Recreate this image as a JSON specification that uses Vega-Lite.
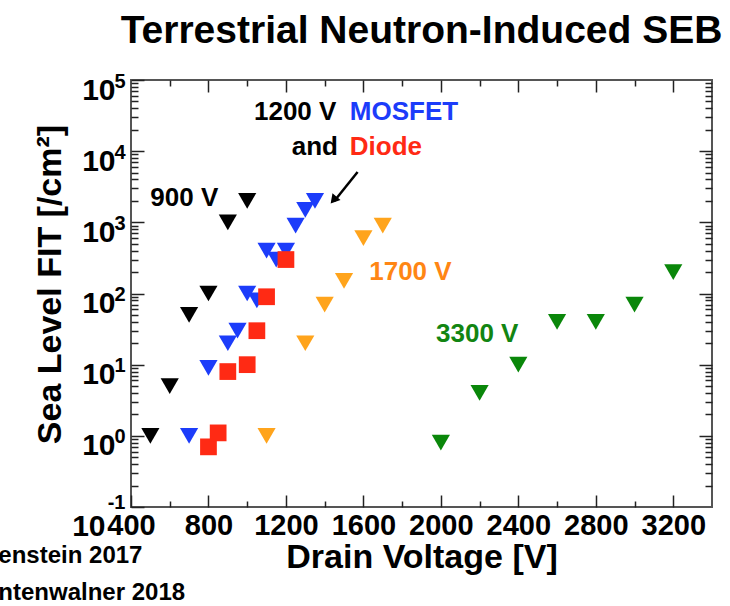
{
  "$schema": "https://vega.github.io/schema/vega-lite/v6.json",
  "autosize": "none",
  "width": 581,
  "height": 427,
  "padding": {"left": 131, "top": 80, "right": 18, "bottom": 99},
  "background": "white",
  "title": {
    "text": "Terrestrial Neutron-Induced SEB",
    "anchor": "middle",
    "frame": "group",
    "font": "Liberation Sans",
    "fontSize": 39,
    "fontWeight": "bold",
    "color": "black",
    "baseline": "alphabetic",
    "offset": -11
  },
  "datasets": {
    "points": [
      {"series": "900 V", "v": 500, "fit": 1},
      {"series": "900 V", "v": 600, "fit": 5},
      {"series": "900 V", "v": 700, "fit": 50},
      {"series": "900 V", "v": 800, "fit": 100},
      {"series": "900 V", "v": 900, "fit": 1000},
      {"series": "900 V", "v": 1000, "fit": 2000},
      {"series": "1200 V MOSFET", "v": 700, "fit": 1},
      {"series": "1200 V MOSFET", "v": 800, "fit": 9},
      {"series": "1200 V MOSFET", "v": 900, "fit": 20},
      {"series": "1200 V MOSFET", "v": 950, "fit": 30},
      {"series": "1200 V MOSFET", "v": 1000, "fit": 100},
      {"series": "1200 V MOSFET", "v": 1050, "fit": 80},
      {"series": "1200 V MOSFET", "v": 1100, "fit": 400},
      {"series": "1200 V MOSFET", "v": 1150, "fit": 300},
      {"series": "1200 V MOSFET", "v": 1200, "fit": 400},
      {"series": "1200 V MOSFET", "v": 1250, "fit": 900},
      {"series": "1200 V MOSFET", "v": 1300, "fit": 1500},
      {"series": "1200 V MOSFET", "v": 1350, "fit": 2000},
      {"series": "1200 V Diode", "v": 800, "fit": 0.7},
      {"series": "1200 V Diode", "v": 850, "fit": 1.1},
      {"series": "1200 V Diode", "v": 900, "fit": 8},
      {"series": "1200 V Diode", "v": 1000, "fit": 10},
      {"series": "1200 V Diode", "v": 1050, "fit": 30},
      {"series": "1200 V Diode", "v": 1100, "fit": 90},
      {"series": "1200 V Diode", "v": 1200, "fit": 300},
      {"series": "1700 V", "v": 1100, "fit": 1},
      {"series": "1700 V", "v": 1300, "fit": 20},
      {"series": "1700 V", "v": 1400, "fit": 70},
      {"series": "1700 V", "v": 1500, "fit": 150},
      {"series": "1700 V", "v": 1600, "fit": 600},
      {"series": "1700 V", "v": 1700, "fit": 900},
      {"series": "3300 V", "v": 2000, "fit": 0.8},
      {"series": "3300 V", "v": 2200, "fit": 4},
      {"series": "3300 V", "v": 2400, "fit": 10},
      {"series": "3300 V", "v": 2600, "fit": 40},
      {"series": "3300 V", "v": 2800, "fit": 40},
      {"series": "3300 V", "v": 3000, "fit": 70},
      {"series": "3300 V", "v": 3200, "fit": 200}
    ],
    "labels": [
      {"text": "900 V", "series": "900 V", "v": 500, "fit": 2200},
      {"text": "1200 V", "series": "note", "v": 1035, "fit": 35000},
      {"text": "MOSFET", "series": "1200 V MOSFET", "v": 1530, "fit": 35000},
      {"text": "and", "series": "note", "v": 1230, "fit": 11500},
      {"text": "Diode", "series": "1200 V Diode", "v": 1530, "fit": 11500},
      {"text": "1700 V", "series": "1700 V", "v": 1630, "fit": 200},
      {"text": "3300 V", "series": "3300 V", "v": 1975, "fit": 27}
    ],
    "arrow": [
      {"v": 1570, "fit": 5100, "v2": 1450, "fit2": 2000}
    ],
    "arrowhead": [
      {"v": 1451, "fit": 2130}
    ],
    "refs": [
      {"text": "enstein 2017", "v": -285, "fit": 0.0203},
      {"text": "ntenwalner 2018", "v": -285, "fit": 0.0061}
    ]
  },
  "config": {
    "view": {"stroke": "#555555", "strokeWidth": 2},
    "axis": {
      "domain": false,
      "grid": false,
      "tickColor": "#222222",
      "tickWidth": 1.5,
      "labelFont": "Liberation Sans",
      "labelFontWeight": "bold",
      "labelColor": "black",
      "titleFont": "Liberation Sans",
      "titleFontWeight": "bold",
      "titleColor": "black"
    },
    "text": {"font": "Liberation Sans", "fontWeight": "bold"}
  },
  "resolve": {
    "axis": {"x": "independent", "y": "independent"},
    "scale": {"color": "independent"}
  },
  "layer": [
    {
      "data": {"name": "points"},
      "transform": [{"filter": "datum.series !== '1200 V Diode'"}],
      "mark": {"type": "point", "shape": "triangle-down", "filled": true, "opacity": 1, "size": 330, "strokeWidth": 0},
      "encoding": {
        "x": {
          "field": "v", "type": "quantitative",
          "scale": {"domain": [400, 3400], "nice": false, "zero": false},
          "axis": {
            "orient": "bottom",
            "values": [400, 800, 1200, 1600, 2000, 2400, 2800, 3200],
            "tickSize": -12,
            "labelPadding": 16,
            "labelFontSize": 29,
            "labelBaseline": "top",
            "labelFlush": false,
            "labelOverlap": false,
            "format": "d",
            "title": "Drain Voltage [V]",
            "titleFontSize": 34,
            "titleBaseline": "top",
            "titleY": 33
          }
        },
        "y": {
          "field": "fit", "type": "quantitative",
          "scale": {"type": "log", "domain": [0.1, 100000], "nice": false},
          "axis": {
            "orient": "left",
            "values": [0.1, 1, 10, 100, 1000, 10000, 100000],
            "tickSize": -13,
            "labelPadding": {"condition": {"test": "datum.value < 0.5", "value": 39}, "value": 29},
            "labelFontSize": 30,
            "labelBaseline": "middle",
            "labelAlign": "right",
            "labelOffset": {"condition": {"test": "datum.value < 0.5", "value": 19}, "value": 10},
            "labelFlush": false,
            "labelOverlap": false,
            "labelExpr": "'10'",
            "title": "Sea Level FIT [/cm²]",
            "titleFontSize": 34,
            "titleX": -64,
            "titleY": 204
          }
        },
        "color": {
          "field": "series", "type": "nominal", "legend": null,
          "scale": {
            "domain": ["900 V", "1200 V MOSFET", "1200 V Diode", "1700 V", "3300 V"],
            "range": ["#000000", "#1c3cfa", "#ff2a14", "#ffa41c", "#0a870a"]
          }
        }
      }
    },
    {
      "data": {"name": "points"},
      "transform": [{"filter": "datum.series === '1200 V Diode'"}],
      "mark": {"type": "point", "shape": "square", "filled": true, "opacity": 1, "size": 280, "strokeWidth": 0},
      "encoding": {
        "x": {
          "field": "v", "type": "quantitative",
          "scale": {"domain": [400, 3400], "nice": false, "zero": false},
          "axis": {
            "orient": "bottom",
            "values": [600, 1000, 1400, 1800, 2200, 2600, 3000],
            "tickSize": -6,
            "labels": false,
            "title": null
          }
        },
        "y": {
          "field": "fit", "type": "quantitative",
          "scale": {"type": "log", "domain": [0.1, 100000], "nice": false},
          "axis": {
            "orient": "left",
            "values": [0.2, 0.3, 0.4, 0.5, 0.6, 0.7, 0.8, 0.9, 2, 3, 4, 5, 6, 7, 8, 9, 20, 30, 40, 50, 60, 70, 80, 90, 200, 300, 400, 500, 600, 700, 800, 900, 2000, 3000, 4000, 5000, 6000, 7000, 8000, 9000, 20000, 30000, 40000, 50000, 60000, 70000, 80000, 90000],
            "tickSize": -7,
            "labels": false,
            "title": null
          }
        },
        "color": {
          "field": "series", "type": "nominal", "legend": null,
          "scale": {
            "domain": ["900 V", "1200 V MOSFET", "1200 V Diode", "1700 V", "3300 V"],
            "range": ["#000000", "#1c3cfa", "#ff2a14", "#ffa41c", "#0a870a"]
          }
        }
      }
    },
    {
      "data": {"name": "labels"},
      "mark": {"type": "text", "align": "left", "baseline": "middle", "fontSize": 26, "fontWeight": "bold", "font": "Liberation Sans"},
      "encoding": {
        "x": {
          "field": "v", "type": "quantitative",
          "scale": {"domain": [400, 3400], "nice": false, "zero": false},
          "axis": {
            "orient": "top",
            "values": [800, 1200, 1600, 2000, 2400, 2800, 3200],
            "tickSize": -12,
            "labels": false,
            "title": null
          }
        },
        "y": {
          "field": "fit", "type": "quantitative",
          "scale": {"type": "log", "domain": [0.1, 100000], "nice": false},
          "axis": {
            "orient": "right",
            "values": [1, 10, 100, 1000, 10000],
            "tickSize": -13,
            "labels": false,
            "title": null
          }
        },
        "text": {"field": "text"},
        "color": {
          "field": "series", "type": "nominal", "legend": null,
          "scale": {
            "domain": ["900 V", "note", "1200 V MOSFET", "1200 V Diode", "1700 V", "3300 V"],
            "range": ["#000000", "#000000", "#1c3cfa", "#ff2a14", "#ff8614", "#128512"]
          }
        }
      }
    },
    {
      "data": {"name": "arrow"},
      "mark": {"type": "rule", "color": "black", "strokeWidth": 2.5},
      "encoding": {
        "x": {
          "field": "v", "type": "quantitative",
          "scale": {"domain": [400, 3400], "nice": false, "zero": false},
          "axis": {
            "orient": "top",
            "values": [600, 1000, 1400, 1800, 2200, 2600, 3000],
            "tickSize": -6,
            "labels": false,
            "title": null
          }
        },
        "y": {
          "field": "fit", "type": "quantitative",
          "scale": {"type": "log", "domain": [0.1, 100000], "nice": false},
          "axis": {
            "orient": "right",
            "values": [0.2, 0.3, 0.4, 0.5, 0.6, 0.7, 0.8, 0.9, 2, 3, 4, 5, 6, 7, 8, 9, 20, 30, 40, 50, 60, 70, 80, 90, 200, 300, 400, 500, 600, 700, 800, 900, 2000, 3000, 4000, 5000, 6000, 7000, 8000, 9000, 20000, 30000, 40000, 50000, 60000, 70000, 80000, 90000],
            "tickSize": -7,
            "labels": false,
            "title": null
          }
        },
        "x2": {"field": "v2"},
        "y2": {"field": "fit2"}
      }
    },
    {
      "data": {"name": "arrowhead"},
      "mark": {"type": "point", "shape": "triangle", "filled": true, "opacity": 1, "color": "black", "size": 110, "angle": 220, "strokeWidth": 0},
      "encoding": {
        "x": {"field": "v", "type": "quantitative", "scale": {"domain": [400, 3400], "nice": false, "zero": false}, "axis": null},
        "y": {
          "field": "fit", "type": "quantitative",
          "scale": {"type": "log", "domain": [0.1, 100000], "nice": false},
          "axis": {
            "orient": "left",
            "values": [0.1, 1, 10, 100, 1000, 10000, 100000],
            "ticks": false,
            "labelPadding": 6,
            "labelFontSize": 20,
            "labelBaseline": "middle",
            "labelAlign": "right",
            "labelOffset": {"condition": {"test": "datum.value < 0.5", "value": -5}, "value": 1},
            "labelFlush": false,
            "labelOverlap": false,
            "labelExpr": "'' + round(log(datum.value) / LN10)",
            "title": null
          }
        }
      }
    },
    {
      "data": {"name": "refs"},
      "mark": {"type": "text", "align": "left", "baseline": "middle", "fontSize": 24, "fontWeight": "bold", "font": "Liberation Sans", "color": "black"},
      "encoding": {
        "x": {"field": "v", "type": "quantitative", "scale": {"domain": [400, 3400], "nice": false, "zero": false}, "axis": null},
        "y": {"field": "fit", "type": "quantitative", "scale": {"type": "log", "domain": [0.1, 100000], "nice": false}, "axis": null},
        "text": {"field": "text"}
      }
    }
  ]
}
